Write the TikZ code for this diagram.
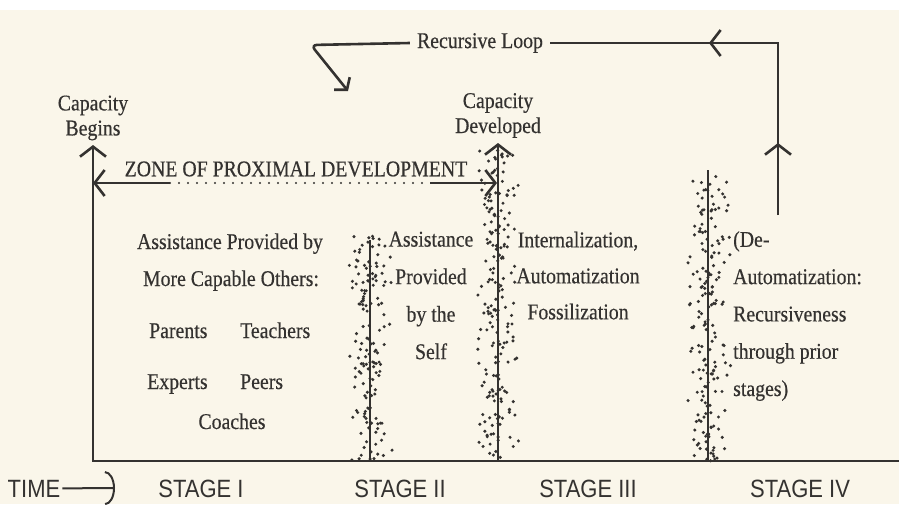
\documentclass[tikz,border=0pt]{standalone}
\usepackage{fontspec}
\setmainfont{Liberation Serif}[FakeStretch=0.88, FakeBold=0.4]
\newfontfamily\stagefont{Liberation Sans}[FakeStretch=0.88]
\usetikzlibrary{arrows.meta,decorations.markings}

\definecolor{paper}{RGB}{250,246,234}
\definecolor{ink}{RGB}{52,50,48}

\tikzset{barb/.tip={Straight Barb[length=10pt,width=26pt]}}

% random dots around a vertical line: x, top, bottom, number of dots
\newcommand{\stippleband}[4]{%
  \foreach \k in {1,...,#4}{%
    \pgfmathsetmacro{\dx}{(rnd+rnd-1)*23}%
    \pgfmathsetmacro{\dy}{#2+rnd*(#3-#2)}%
    \fill[ink] (#1+\dx,\dy) circle[radius=1.7pt];
  }}

\begin{document}
\begin{tikzpicture}
    [x=1pt, y=-1pt,
    font=\fontsize{22.5}{25}\selectfont,
    axis/.style={draw=ink, line width=2.6pt},
    txt/.style={text=ink, inner sep=0pt},
    stage/.style={text=ink, inner sep=0pt, font=\stagefont\fontsize{25}{25}\selectfont},
    loopmarks/.style={postaction={decorate}, decoration={markings,
        mark=at position 72pt with {\arrow{barb}},
        mark=at position 241pt with {\arrow{barb}}}}]
        \useasboundingbox (0,0) rectangle (899,504);
        \fill[paper] (0,10) rectangle (899,504);

        %% stippled bands
        \pgfmathsetseed{11}
        \stippleband{370}{235}{461}{150}
        \stippleband{498}{150}{461}{200}
        \stippleband{708}{168}{461}{185}

        %% time axis and capacity axis
        \coordinate (o) at (93,461);
        \coordinate (e) at (899,461);
        \node[txt, align=center, anchor=south, inner sep=4.5pt] (cb) at (93,145) {Capacity\\Begins};
        \draw[axis, barb-] (cb.south) -- (o) -- (e);

        %% zone of proximal development
        \coordinate (zl) at (93,183);
        \coordinate (za) at (170,183);
        \coordinate (zb) at (430,183);
        \coordinate (zr) at (497,183);
        \node[txt] (zpd) at (296,169) {ZONE OF PROXIMAL DEVELOPMENT};
        \draw[axis, barb-] (zl) -- (za);
        \draw[ink, line width=2.2pt, line cap=round, dash pattern=on 0pt off 9pt] (za) -- (zb);
        \draw[axis, -barb] (zb) -- (zr);

        %% stage borders
        \coordinate (b1) at (370,461);
        \coordinate (t1) at (370,240);
        \draw[axis] (b1) -- (t1);
        \node[txt, align=center, anchor=south, inner sep=5pt] (cd) at (498,143) {Capacity\\Developed};
        \coordinate (b2) at (498,461);
        \draw[axis, barb-] (cd.south) -- (b2);
        \coordinate (b3) at (708,461);
        \coordinate (t3) at (708,170);
        \draw[axis] (b3) -- (t3);

        %% recursive loop
        \node[txt, inner sep=7pt] (loop) at (480,43) {Recursive Loop};
        \coordinate (ls) at (778,215);
        \coordinate (lk) at (311,45);
        \coordinate (le) at (348,91);
        \draw[axis, loopmarks] (ls) |- (loop.east);
        \draw[axis, rounded corners=6pt, -{Straight Barb[length=8pt,width=20pt]}] (loop.west) -- (lk) -- (le);

        %% stage I
        \node[txt, anchor=base] (ap1) at (230,249) {Assistance Provided by};
        \node[txt, anchor=base] (ap2) at (231,286) {More Capable Others:};
        \node[txt, anchor=base west] (par) at (149,338) {Parents};
        \node[txt, anchor=base west] (tea) at (240,338) {Teachers};
        \node[txt, anchor=base west] (exp) at (147,389) {Experts};
        \node[txt, anchor=base west] (pee) at (240,389) {Peers};
        \node[txt, anchor=base] (coa) at (232,429) {Coaches};

        %% stages II to IV
        \node[txt, align=center, anchor=north, font=\fontsize{22.5}{37.5}\selectfont] (self) at (431,231.5) {Assistance\\Provided\\by the\\Self};
        \node[txt, align=center, anchor=north, font=\fontsize{22.5}{36}\selectfont] (intl) at (578,231.5) {Internalization,\\Automatization\\Fossilization};
        \node[txt, align=left, anchor=north west, font=\fontsize{22.5}{37.3}\selectfont] (deau) at (733,231) {(De-\\Automatization:\\Recursiveness\\through prior\\stages)};

        %% time line labels
        \node[stage, anchor=base] (time) at (34,497) {TIME};
        \coordinate (tt) at (115,488);
        \draw[ink, line width=2pt, shorten <=2pt, -{Arc Barb[length=10pt,width=34pt]}] (time.east) -- (tt);
        \node[stage, anchor=base] (s1) at (201,497) {STAGE I};
        \node[stage, anchor=base] (s2) at (400,497) {STAGE II};
        \node[stage, anchor=base] (s3) at (588,497) {STAGE III};
        \node[stage, anchor=base] (s4) at (800,497) {STAGE IV};
    \end{tikzpicture}
\end{document}
